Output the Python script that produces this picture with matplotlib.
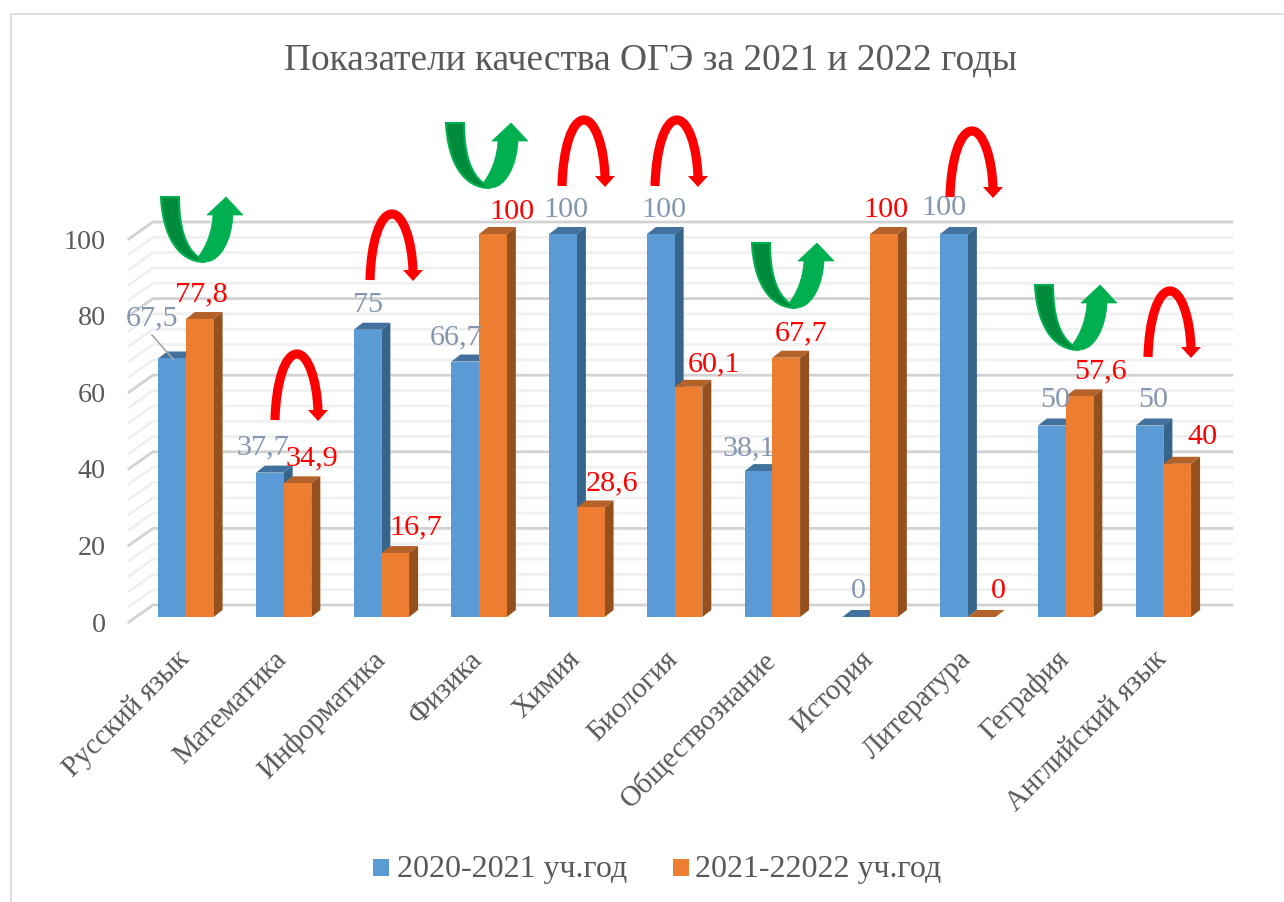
import matplotlib
matplotlib.use("Agg")
import matplotlib.pyplot as plt
from matplotlib.patches import Polygon, PathPatch, Rectangle
from matplotlib.path import Path
from matplotlib.transforms import Affine2D, ScaledTranslation
from matplotlib.lines import Line2D

plt.rcParams['font.family'] = ['Liberation Serif', 'DejaVu Serif']

categories = ["Русский язык", "Математика", "Информатика", "Физика", "Химия", "Биология",
              "Обществознание", "История", "Литература", "Геграфия", "Английский язык"]
series_2021 = [67.5, 37.7, 75, 66.7, 100, 100, 38.1, 0, 100, 50, 50]
series_2022 = [77.8, 34.9, 16.7, 100, 28.6, 60.1, 67.7, 100, 0, 57.6, 40]
labels_2021 = ["67,5", "37,7", "75", "66,7", "100", "100", "38,1", "0", "100", "50", "50"]
labels_2022 = ["77,8", "34,9", "16,7", "100", "28,6", "60,1", "67,7", "100", "0", "57,6", "40"]
series_names = ["2020-2021 уч.год", "2021-22022 уч.год"]
title = "Показатели качества ОГЭ за 2021 и 2022 годы"
y_ticks = [0, 20, 40, 60, 80, 100]

# label centres in figure pixels (manually placed in the reference)
pos_2021 = [(152, 318), (263, 447), (368, 305), (456, 337), (566, 210), (664, 210),
            (749, 448), (858, 591), (944, 208), (1055, 400), (1153, 400)]
pos_2022 = [(201, 294), (312, 458), (416, 527), (512, 212), (612, 483), (714, 364),
            (801, 333), (886, 210), (998, 591), (1100, 371), (1202, 437)]
red_arrows = [(270, 420), (365, 280), (557, 186), (650, 186), (945, 197), (1143, 357)]
green_arrows = [(161, 197), (446, 123), (752, 243), (1035, 285)]

W, H = 1284, 902
fig = plt.figure(figsize=(W / 100, H / 100), dpi=100, facecolor='white')
px = Affine2D().scale(1, -1).translate(0, H)   # reference pixel coordinates -> display

fig.add_artist(Line2D([11, 11, 1284], [H, 14, 14], transform=px, color='#D9D9D9', lw=1.2))

L, R, T, B = 137, 1212.25, 234, 617
ax = fig.add_axes([L / W, 1 - B / H, (R - L) / W, (B - T) / H])
ax.set_xlim(-0.5, 10.5)
ax.set_ylim(0, 100)
ax.patch.set_visible(False)
for s in ax.spines.values():
    s.set_visible(False)

ux = (R - L) / 11          # px per category
uy = (B - T) / 100         # px per value unit
bar_w = 27.7 / ux
dx, dy = 9 / ux, 7 / uy

# walls
for v in range(0, 101, 4):
    major = v % 20 == 0
    col = '#D2D2D2' if major else '#F0F0F0'
    x0, x1, x2 = (129 - 186) / ux, (153 - 186) / ux, (1232 - 186) / ux
    ax.plot([x0, x1, x2], [v - 5 / uy, v + 12 / uy, v + 12 / uy], color=col,
            lw=2.0, clip_on=False, zorder=1, solid_joinstyle='miter')

def bar3d(x, v, front, top, side, z):
    x0, x1 = x, x + bar_w
    ax.bar(x0, v, bar_w, align='edge', color=front, zorder=z + 0.2, edgecolor='none')
    ax.add_patch(Polygon([(x0, v), (x1, v), (x1 + dx, v + dy), (x0 + dx, v + dy)],
                         closed=True, fc=top, ec='none', zorder=z, clip_on=False))
    ax.add_patch(Polygon([(x1, 0), (x1, v), (x1 + dx, v + dy), (x1 + dx, dy)],
                         closed=True, fc=side, ec='none', zorder=z + 0.1, clip_on=False))

for i, (a, b) in enumerate(zip(series_2021, series_2022)):
    bar3d(i - bar_w, a, '#5B9BD5', '#41719C', '#37648B', 3 + i)
    bar3d(i, b, '#ED7D31', '#B5622A', '#95501D', 3.5 + i)

ax.set_yticks(y_ticks)
ax.set_yticklabels([str(v) for v in y_ticks], fontsize=20.2, color='#595959')
ax.tick_params(axis='y', length=0, pad=22.5)
for lab in ax.get_yticklabels():
    lab.set_transform(lab.get_transform() + ScaledTranslation(0, -5 / 100, fig.dpi_scale_trans))

ax.set_xticks(range(len(categories)))
ax.set_xticklabels(categories, fontsize=20.8, color='#595959', rotation=45, ha='right',
                   va='top', rotation_mode='anchor')
ax.tick_params(axis='x', length=0, pad=21)
for lab in ax.get_xticklabels():
    lab.set_transform(lab.get_transform() + ScaledTranslation(-10 / 100, 0, fig.dpi_scale_trans))

for lab, (x, y) in zip(labels_2021, pos_2021):
    fig.text(x, y, lab, transform=px, fontsize=21.7, color='#8497B0', ha='center', va='center', zorder=30)
for lab, (x, y) in zip(labels_2022, pos_2022):
    fig.text(x, y, lab, transform=px, fontsize=21.7, color='#FF0000', ha='center', va='center', zorder=30)
fig.add_artist(Line2D([152, 173], [335, 359], transform=px, color='#A6A6A6', lw=1.2, zorder=30))

fig.text(651, 60, title, transform=px, fontsize=26.9, color='#595959', ha='center', va='center')

def red_arrow(x, y):
    verts = [(x + 5, y), (x + 6, y - 38), (x + 15, y - 66), (x + 27, y - 66),
             (x + 38, y - 66), (x + 47, y - 40), (x + 48, y - 9)]
    codes = [Path.MOVETO, Path.CURVE4, Path.CURVE4, Path.CURVE4, Path.CURVE4, Path.CURVE4, Path.CURVE4]
    fig.add_artist(PathPatch(Path(verts, codes), transform=px, fc='none', ec='#FF0000',
                             lw=6.6, capstyle='butt', zorder=40))
    fig.add_artist(Polygon([(x + 38, y - 10), (x + 58, y - 10), (x + 48, y + 1)], closed=True,
                           transform=px, fc='#FF0000', ec='none', zorder=41))

def green_arrow(x, y):
    dark = Path([(x, y), (x + 2, y + 40), (x + 18, y + 65), (x + 44, y + 65),
                 (x + 37, y + 60), (x + 24, y + 50), (x + 18, y + 30), (x + 18, y), (x, y)],
                [Path.MOVETO, Path.CURVE4, Path.CURVE4, Path.CURVE4,
                 Path.LINETO, Path.CURVE4, Path.CURVE4, Path.CURVE4, Path.CLOSEPOLY])
    light = Path([(x + 37, y + 60), (x + 45, y + 50), (x + 51, y + 35), (x + 52, y + 18),
                  (x + 46, y + 18), (x + 65, y), (x + 82, y + 18), (x + 72, y + 18),
                  (x + 71, y + 42), (x + 60, y + 65), (x + 44, y + 65), (x + 37, y + 60)],
                 [Path.MOVETO, Path.CURVE4, Path.CURVE4, Path.CURVE4,
                  Path.LINETO, Path.LINETO, Path.LINETO, Path.LINETO,
                  Path.CURVE4, Path.CURVE4, Path.CURVE4, Path.CLOSEPOLY])
    fig.add_artist(PathPatch(dark, transform=px, fc='#008A3C', ec='#00B050', lw=1.5, zorder=40))
    fig.add_artist(PathPatch(light, transform=px, fc='#00B050', ec='#00B050', lw=0.5, zorder=41))

for x, y in red_arrows:
    red_arrow(x, y)
for x, y in green_arrows:
    green_arrow(x, y)

# legend
for name, col, xs, xt in zip(series_names, ['#5B9BD5', '#ED7D31'], [373, 673], [397, 695]):
    fig.add_artist(Rectangle((xs, 859), 16, 17, transform=px, fc=col, ec='none'))
    fig.text(xt, 870, name, transform=px, fontsize=23, color='#595959', ha='left', va='center')

fig.savefig('out.png', dpi=100, facecolor='white')
